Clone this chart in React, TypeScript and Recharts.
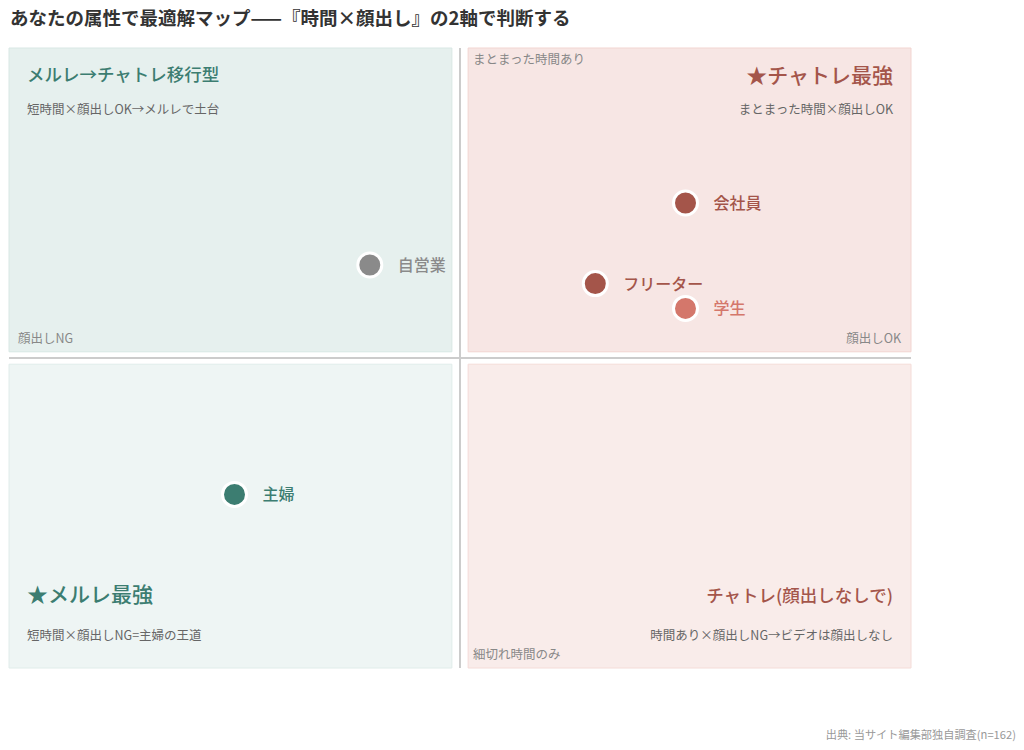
import React from 'react';
import {
  ScatterChart,
  Scatter,
  XAxis,
  YAxis,
  ReferenceArea,
  ReferenceLine,
  Label,
} from 'recharts';

const FONT = '"Noto Sans CJK JP", "Noto Sans", sans-serif';

// 属性ごとの位置 (x: 顔出し NG→OK, y: 細切れ→まとまった時間)
const names = ['自営業', '会社員', 'フリーター', '学生', '主婦'];
const faceScores = [40, 75, 65, 75, 25];
const timeScores = [65, 75, 62, 58, 28];

const pointColors = ['#8a8a8a', '#a4554a', '#a4554a', '#d4776b', '#3c7d71'];

const points = names.map((name, i) => ({
  name,
  x: faceScores[i],
  y: timeScores[i],
  color: pointColors[i],
}));

interface QuadText {
  title: string;
  sub: string;
  titleSize: number;
  align: 'left' | 'right';
  titleDy: number;
  subDy: number;
  color: string;
}

const renderQuadText = (q: QuadText) => (props: any) => {
  const { x, y, width } = props.viewBox;
  const tx = q.align === 'left' ? x + 18 : x + width - 18;
  const anchor = q.align === 'left' ? 'start' : 'end';
  return (
    <g>
      <text
        x={tx}
        y={y + q.titleDy}
        textAnchor={anchor}
        fontSize={q.titleSize}
        fontWeight={500}
        fill={q.color}
        fontFamily={FONT}
      >
        {q.title}
      </text>
      <text
        x={tx}
        y={y + q.subDy}
        textAnchor={anchor}
        fontSize={12.5}
        fill="#666"
        fontFamily={FONT}
      >
        {q.sub}
      </text>
    </g>
  );
};

const axisText = (text: string, dx: number, dy: number, anchor: string) => (props: any) => {
  const { x, y, width } = props.viewBox;
  const tx = anchor === 'end' ? x + width + dx : x + dx;
  return (
    <text x={tx} y={y + dy} textAnchor={anchor} fontSize={12.5} fill="#888" fontFamily={FONT}>
      {text}
    </text>
  );
};

const PointShape = (props: any) => {
  const { cx, cy, payload } = props;
  return (
    <g>
      <circle cx={cx} cy={cy} r={12} fill={payload.color} stroke="#fff" strokeWidth={3} />
      <text
        x={cx + 28}
        y={cy + 6}
        fontSize={16}
        fontWeight={500}
        fill={payload.color}
        fontFamily={FONT}
      >
        {payload.name}
      </text>
    </g>
  );
};

export default function App() {
  return (
    <div style={{ position: 'absolute', left: 0, top: 0, width: 1024, height: 750, background: '#fff', fontFamily: FONT }}>
      <div style={{ position: 'absolute', left: 10, top: 4, fontSize: 18.5, fontWeight: 700, color: '#333', whiteSpace: 'nowrap' }}>
        あなたの属性で最適解マップ——『時間×顔出し』の2軸で判断する
      </div>
      <ScatterChart width={1024} height={750} margin={{ top: 48, right: 113, bottom: 82, left: 9 }}>
        <XAxis type="number" dataKey="x" domain={[0, 100]} hide />
        <YAxis type="number" dataKey="y" domain={[0, 100]} hide />

        <ReferenceArea x1={0} x2={49.1} y1={51} y2={100} fill="#e6f0ee" fillOpacity={1} stroke="#d8e7e4" strokeWidth={1}>
          <Label
            content={renderQuadText({
              title: 'メルレ→チャトレ移行型',
              sub: '短時間×顔出しOK→メルレで土台',
              titleSize: 17.5,
              align: 'left',
              titleDy: 33,
              subDy: 66,
              color: '#3c7d71',
            })}
          />
          <Label content={axisText('顔出しNG', 9, 295, 'start')} />
        </ReferenceArea>

        <ReferenceArea x1={50.9} x2={100} y1={51} y2={100} fill="#f7e6e4" fillOpacity={1} stroke="#f2d5d1" strokeWidth={1}>
          <Label
            content={renderQuadText({
              title: '★チャトレ最強',
              sub: 'まとまった時間×顔出しOK',
              titleSize: 21,
              align: 'right',
              titleDy: 35,
              subDy: 66,
              color: '#a4554a',
            })}
          />
          <Label content={axisText('まとまった時間あり', 5, 16, 'start')} />
          <Label content={axisText('顔出しOK', -10, 295, 'end')} />
        </ReferenceArea>

        <ReferenceArea x1={0} x2={49.1} y1={0} y2={49} fill="#eef5f4" fillOpacity={1} stroke="#e0ecea" strokeWidth={1}>
          <Label
            content={renderQuadText({
              title: '★メルレ最強',
              sub: '短時間×顔出しNG=主婦の王道',
              titleSize: 21,
              align: 'left',
              titleDy: 238,
              subDy: 276,
              color: '#3c7d71',
            })}
          />
        </ReferenceArea>

        <ReferenceArea x1={50.9} x2={100} y1={0} y2={49} fill="#f9ecea" fillOpacity={1} stroke="#f4dcd8" strokeWidth={1}>
          <Label
            content={renderQuadText({
              title: 'チャトレ(顔出しなしで)',
              sub: '時間あり×顔出しNG→ビデオは顔出しなし',
              titleSize: 17.5,
              align: 'right',
              titleDy: 238,
              subDy: 276,
              color: '#a4554a',
            })}
          />
          <Label content={axisText('細切れ時間のみ', 5, 295, 'start')} />
        </ReferenceArea>

        <ReferenceLine x={50} stroke="#cccccc" strokeWidth={2} />
        <ReferenceLine y={50} stroke="#cccccc" strokeWidth={2} />

        <Scatter data={points} shape={<PointShape />} isAnimationActive={false} />
      </ScatterChart>
      <div style={{ position: 'absolute', right: 8, top: 726, fontSize: 11.2, color: '#999' }}>
        出典: 当サイト編集部独自調査(n=162)
      </div>
    </div>
  );
}
